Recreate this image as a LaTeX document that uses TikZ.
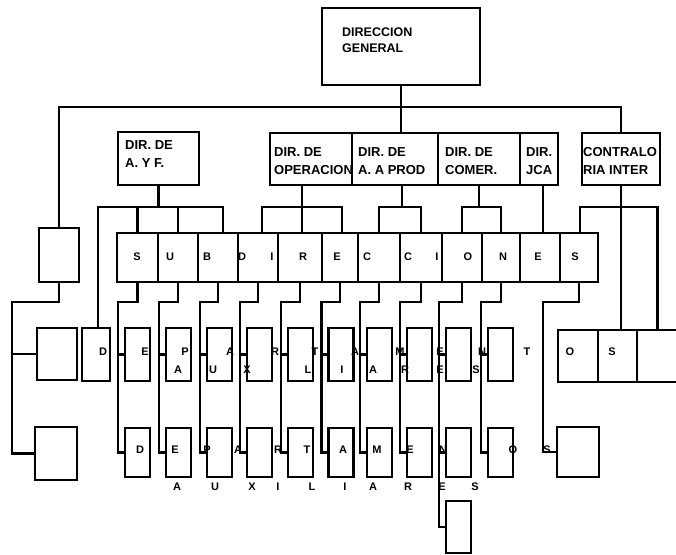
\documentclass[tikz,border=0pt]{standalone}
\usepackage{fontspec}
\setmainfont{Liberation Sans}
\begin{document}
\begin{tikzpicture}[x=1pt,y=-1pt]
  % Estilos del organigrama
  \tikzset{
    caja/.style={draw, line width=2.8pt, inner sep=0pt, outer sep=0pt},
    linea/.style={line width=2.8pt},
    letra/.style={font=\fontsize{11}{13}\selectfont\bfseries, inner sep=0pt},
    titulo/.style={font=\fontsize{13}{18}\selectfont\bfseries, align=left, inner sep=0pt, anchor=north west}
  }
  \useasboundingbox (0,0) rectangle (676,554);

  % Direccion general
  \node[caja, minimum width=158, minimum height=77] (dg) at (401,46.5) {};
  \node[titulo, font=\fontsize{12.5}{16}\selectfont\bfseries] (tdg) at (342,27.5) {DIRECCION\\GENERAL};

  % Direcciones
  \node[caja, minimum width=81, minimum height=53] (daf) at (158.5,158.5) {};
  \node[caja, minimum width=82, minimum height=52] (dop) at (311,159) {};
  \node[caja, minimum width=86, minimum height=52] (dap) at (395,159) {};
  \node[caja, minimum width=82, minimum height=52] (dcom) at (479,159) {};
  \node[caja, minimum width=38, minimum height=52] (djca) at (539,159) {};
  \node[caja, minimum width=78, minimum height=52] (dci) at (621,159) {};
  \node[titulo] (tdaf) at (125,140.5) {DIR. DE\\A. Y F.};
  \node[titulo] (tdop) at (274,147) {DIR. DE\\OPERACION};
  \node[titulo] (tdap) at (358,147) {DIR. DE\\A. A PROD};
  \node[titulo] (tdcom) at (445,147) {DIR. DE\\COMER.};
  \node[titulo] (tdjca) at (526,147) {DIR.\\JCA};
  \node[titulo] (tdci) at (583,147) {CONTRALO\\RIA INTER};

  % Subdirecciones
  \foreach \a/\b [count=\i] in {117/158,158/198,198/238,238/278,278/322,322/358,358/400,400/442,442/482,482/520,520/560,560/598}
    \node[caja, minimum width=\b-\a, minimum height=49] (s\i) at ({(\a+\b)/2},257.5) {};

  % Departamentos
  \foreach \c [count=\i] in {137.5,178.5,219.5,259.5,300.5,341,379.5,419.5,458.5,500.5} {
    \node[caja, minimum width=25, minimum height=53] (r2-\i) at (\c,354.5) {};
    \node[caja, minimum width=25, minimum height=49] (r3-\i) at (\c,452.5) {};
  }
  \node[caja, minimum width=42, minimum height=50] (r3-11) at (578,452) {};
  \node[caja, minimum width=25, minimum height=52] (extra) at (458.5,527) {};
  \node[caja, minimum width=28, minimum height=53] (dd) at (96,354.5) {};
  \node[caja, minimum width=40, minimum height=52] (os1) at (578,356) {};
  \node[caja, minimum width=39, minimum height=52] (os2) at (617.5,356) {};
  \node[caja, minimum width=41, minimum height=52] (os3) at (657.5,356) {};

  % Columna izquierda
  \node[caja, minimum width=40, minimum height=54] (L1) at (59,255) {};
  \node[caja, minimum width=40, minimum height=52] (L2) at (57,354) {};
  \node[caja, minimum width=42, minimum height=53] (L3) at (56,453.5) {};

  % Lineas principales
  \coordinate (bus) at (0,107);
  \coordinate (sub) at (0,207);
  \draw[linea] (dg.south) -- (dg.south |- dap.north);
  \draw[linea] (L1.north) |- (dci.north |- bus) -- (dci.north);
  \draw[linea] (L1.south) -- ++(0,20) -| ([xshift=-25]L2.west) -- (L2.west)
    ([xshift=-25]L2.west) |- (L3.west);

  % Direcciones a subdirecciones
  \draw[linea] (daf.south) -- (daf.south |- sub);
  \draw[linea] ([xshift=2]dd.north) |- ([xshift=5]s3.north |- sub) -- ([xshift=5]s3.north);
  \draw[linea] (s1.north) -- (s1.north |- sub);
  \draw[linea] (s2.north) -- (s2.north |- sub);
  \draw[linea] ([xshift=-9]dop.south) -- ([xshift=-9]dop.south |- sub);
  \draw[linea] ([xshift=4]s4.north) |- ([xshift=2]s6.north |- sub) -- ([xshift=2]s6.north);
  \draw[linea] ([xshift=2]s5.north) -- ([xshift=2]s5.north |- sub);
  \draw[linea] ([xshift=7]dap.south) -- ([xshift=7]dap.south |- sub);
  \draw[linea] (s7.north) |- (s8.north |- sub) -- (s8.north);
  \draw[linea] (dcom.south) -- (dcom.south |- sub);
  \draw[linea] (s9.north) |- (s10.north |- sub) -- (s10.north);
  \draw[linea] ([xshift=4]djca.south) -- ([xshift=4]djca.south |- s11.north);
  \draw[linea] (dci.south) -- (dci.south |- os2.north);
  \draw[linea] ([xshift=1]s12.north) |- (os3.north |- sub) -- (os3.north);

  % Subdirecciones a departamentos
  \foreach \i in {1,...,10}
    \draw[linea] (s\i.south) -- ++(0,20) -| ([xshift=-7]r2-\i.west) -- (r2-\i.west)
      ([xshift=-7]r2-\i.west) |- (r3-\i.west);
  \draw[linea] ([xshift=-7]r3-9.west) |- (extra.west);
  \draw[linea] (s12.south) -- ++(0,20) -| ([xshift=-14]r3-11.west) -- (r3-11.west);

  % Letras
  \foreach \x/\l [count=\i] in {137/S,170/U,207/B,242/D,272/I,303/R,337/E,367/C,408/C,437/I,468/O,503/N,538/E,575/S}
    \node[letra] (ls\i) at (\x,257) {\l};
  \foreach \x/\l [count=\i] in {103/D,145/E,185/P,230/A,275/R,315/T,355/A,400/M,440/E,482/N,527/T,570/O,612/S}
    \node[letra] (la\i) at (\x,352) {\l};
  \foreach \x/\l [count=\i] in {178/A,213/U,247/X,308/L,342/I,373/A,405/R,440/E,476/S}
    \node[letra] (lb\i) at (\x,370) {\l};
  \foreach \x/\l [count=\i] in {140/D,175/E,207/P,238/A,278/R,307/T,343/A,377/M,410/E,443/N,513/O,547/S}
    \node[letra] (lc\i) at (\x,450) {\l};
  \foreach \x/\l [count=\i] in {177/A,215/U,252/X,278/I,312/L,345/I,373/A,408/R,442/E,475/S}
    \node[letra] (ld\i) at (\x,487) {\l};
\end{tikzpicture}
\end{document}
